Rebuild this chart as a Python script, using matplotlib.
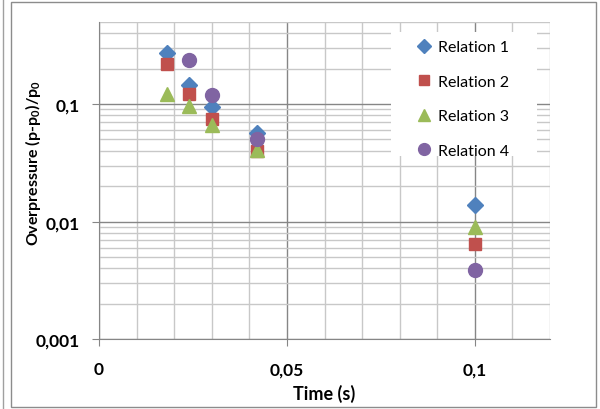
import matplotlib
matplotlib.use("Agg")
import matplotlib.pyplot as plt
from matplotlib.ticker import FixedLocator, NullFormatter, FixedFormatter
from matplotlib.lines import Line2D
from matplotlib.patches import Rectangle

plt.rcParams['font.family'] = ['Lato', 'DejaVu Sans']
plt.rcParams['mathtext.fontset'] = 'custom'
plt.rcParams['mathtext.rm'] = 'Lato:bold'
plt.rcParams['mathtext.bf'] = 'Lato:bold'

# Data
t1 = [0.018, 0.024, 0.030, 0.042, 0.100]
r1 = [0.272, 0.146, 0.094, 0.057, 0.0139]
t2 = [0.018, 0.024, 0.030, 0.042, 0.100]
r2 = [0.219, 0.122, 0.074, 0.0398, 0.00645]
t3 = [0.018, 0.024, 0.030, 0.042, 0.100]
r3 = [0.123, 0.096, 0.066, 0.041, 0.0089]
t4 = [0.024, 0.030, 0.042, 0.100]
r4 = [0.238, 0.120, 0.050, 0.0039]
labels = ["Relation 1", "Relation 2", "Relation 3", "Relation 4"]
xticks = [0, 0.05, 0.1]
xtick_labels = ["0", "0,05", "0,1"]
yticks = [0.001, 0.01, 0.1]
ytick_labels = ["0,001", "0,01", "0,1"]

W, H = 600, 410
fig = plt.figure(figsize=(6, 4.1), dpi=100)
ax = fig.add_axes([99/W, 70/H, 451/W, 317/H])

def ax_x(px):
    return (px - 99) / 451

def ax_y(py):
    return (340 - py) / 317

# outer borders
fig.patches.append(Rectangle((11/W, 2/H), 585/W, 405/H, transform=fig.transFigure,
                             fill=False, edgecolor='#8c8c8c', lw=1))
fig.lines.append(Line2D([2.5/W, 2.5/W], [0, 1], transform=fig.transFigure, color='#a0a0a0', lw=1))

ax.set_yscale('log')
ax.set_xlim(0, 0.12)
ax.set_ylim(0.001, 0.5)

# grid
minor_x = [0.01, 0.02, 0.03, 0.04, 0.06, 0.07, 0.08, 0.09, 0.11, 0.12]
ax.xaxis.set_major_locator(FixedLocator(xticks))
ax.xaxis.set_major_formatter(FixedFormatter(xtick_labels))
ax.xaxis.set_minor_locator(FixedLocator(minor_x))
ax.xaxis.set_minor_formatter(NullFormatter())
minor_y = [m * d for d in [0.001, 0.01, 0.1] for m in range(2, 10) if m * d <= 0.5]
ax.yaxis.set_major_locator(FixedLocator(yticks))
ax.yaxis.set_major_formatter(FixedFormatter(ytick_labels))
ax.yaxis.set_minor_locator(FixedLocator(minor_y))
ax.yaxis.set_minor_formatter(NullFormatter())

ax.grid(which='major', color='#868686', lw=1)
ax.grid(which='minor', color='#c8c8c8', lw=1)
ax.set_axisbelow(True)

for s in ['top', 'right']:
    ax.spines[s].set_visible(False)
for s in ['left', 'bottom']:
    ax.spines[s].set_color('#868686')
ax.tick_params(which='major', length=5, color='#868686', labelsize=12.5)
ax.tick_params(which='minor', length=0)
ax.tick_params(axis='y', pad=8.5)
ax.tick_params(axis='x', pad=11)
for lab in ax.get_xticklabels() + ax.get_yticklabels():
    lab.set_fontweight('bold')

# legend background
ax.add_patch(Rectangle((ax_x(391), ax_y(157)), (537-391)/451, (157-33)/317,
                       transform=ax.transAxes, facecolor='white', edgecolor='none', zorder=1.5))

ax.plot(t1, r1, ls='none', marker='D', ms=8, color='#4F81BD', label=labels[0], clip_on=False, zorder=3)
ax.plot(t2, r2, ls='none', marker='s', ms=9, color='#C0504D', label=labels[1], clip_on=False, zorder=3)
ax.plot(t3, r3, ls='none', marker='^', ms=10, color='#9BBB59', label=labels[2], clip_on=False, zorder=3)
ax.plot(t4, r4, ls='none', marker='o', ms=10, color='#8064A2', label=labels[3], clip_on=False, zorder=3)

leg = ax.legend(loc='upper left', bbox_to_anchor=(ax_x(418), ax_y(41)),
                frameon=False, fontsize=11.5, handlelength=0.8, handletextpad=0.45,
                labelspacing=1.27, borderpad=0, borderaxespad=0, markerscale=0.85)

ax.set_xlabel("Time (s)", fontsize=13, fontweight='bold')
ax.xaxis.set_label_coords(0.5, ax_y(385))
ax.xaxis.label.set_va('top')
ax.set_ylabel(r"Overpressure (p-p$_{0}$)/p$_{0}$", fontsize=11.5, fontweight='bold')
ax.yaxis.set_label_coords(ax_x(43), ax_y(163))

fig.savefig("out.png", dpi=100)
